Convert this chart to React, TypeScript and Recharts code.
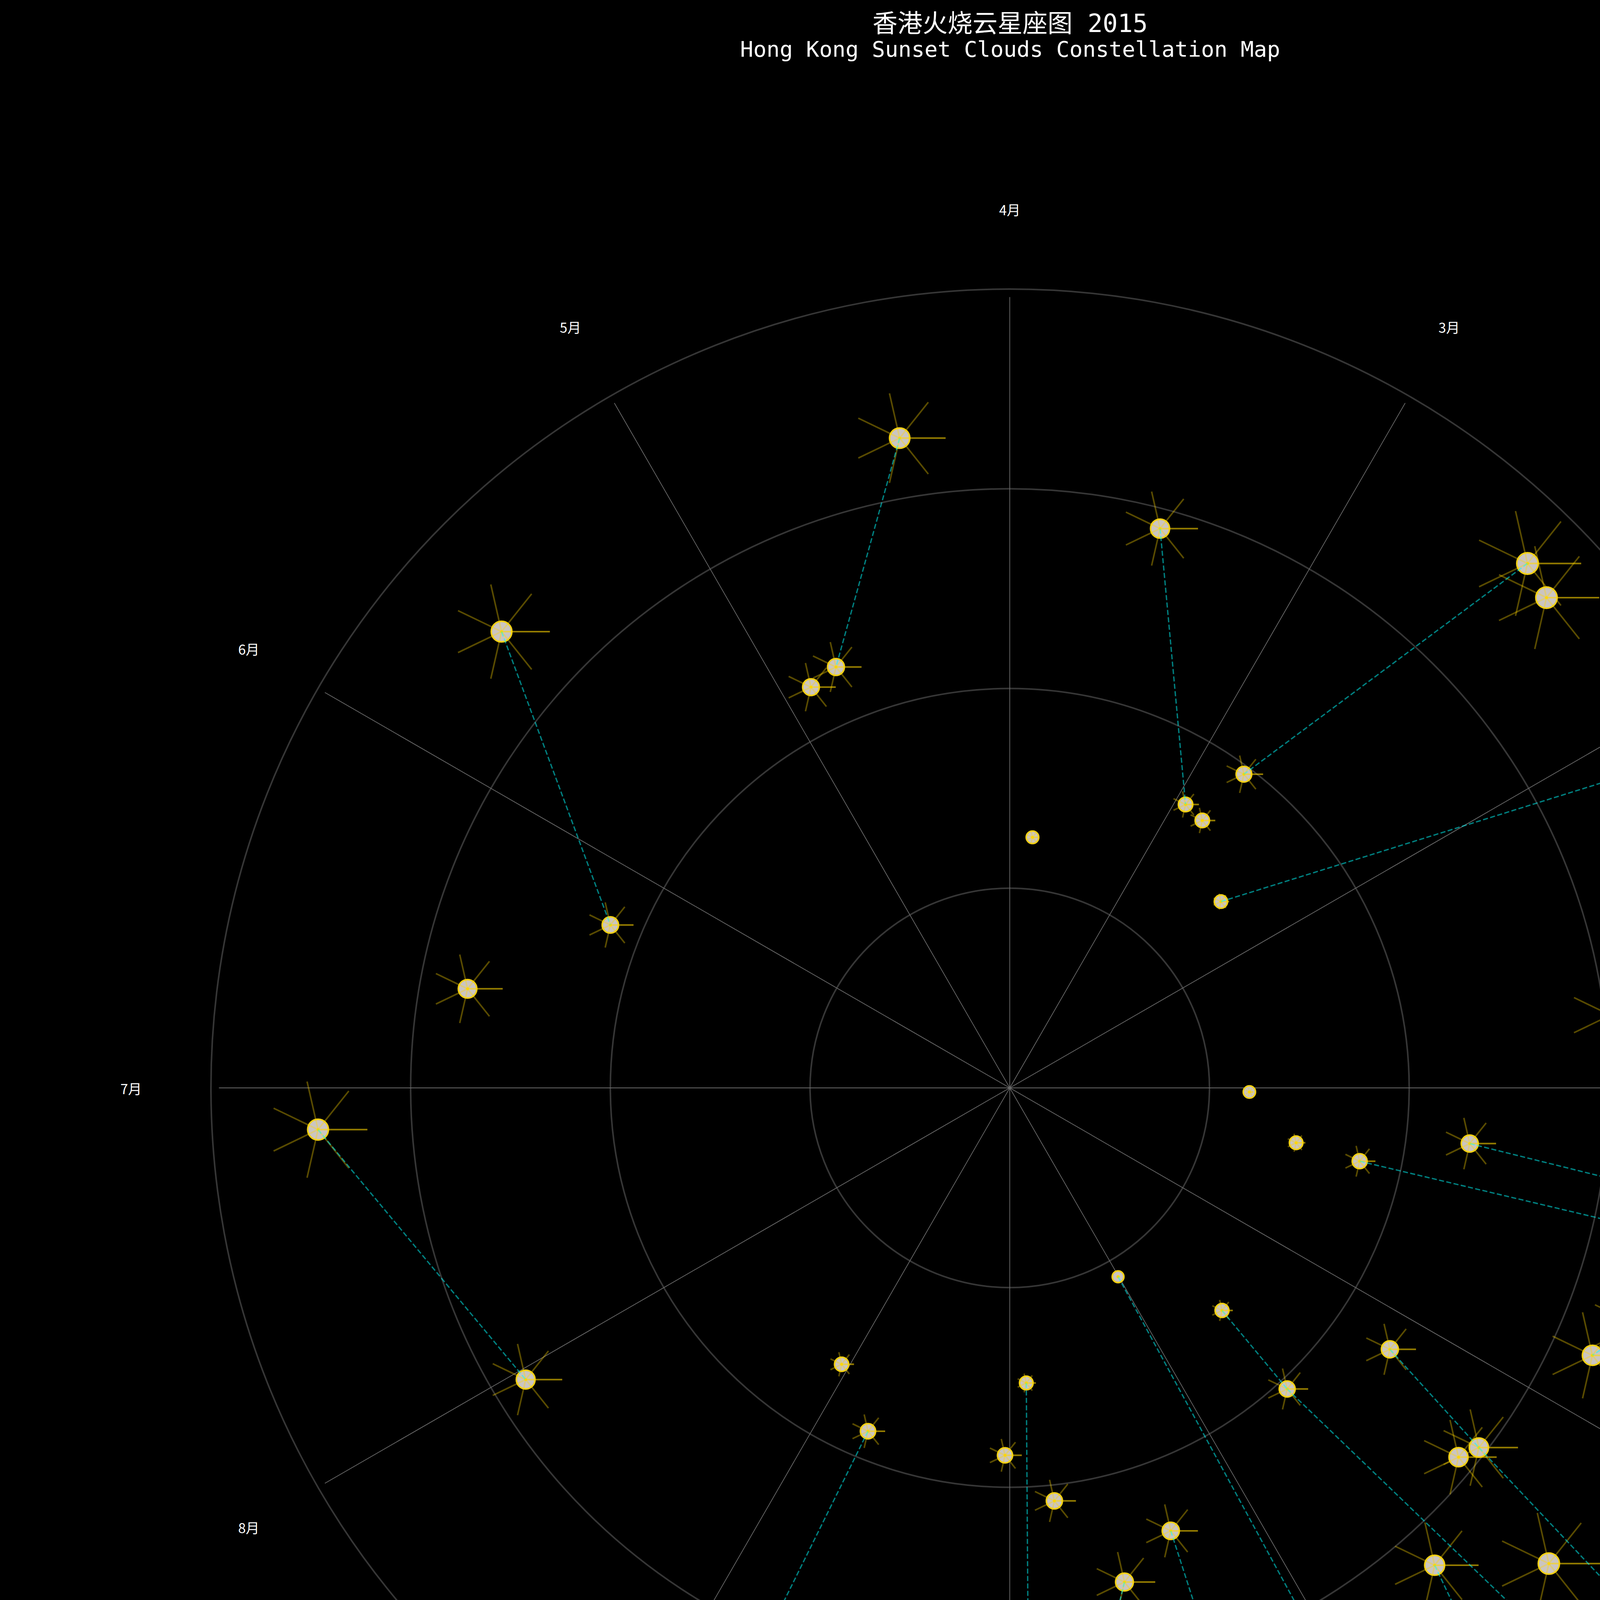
import React from 'react'
import { ScatterChart, Scatter, XAxis, YAxis } from 'recharts'

// canvas + polar frame (pixels)
const W = 5172
const H = 5372
const CX = 2585
const CY = 2785
const UNIT = 511.25 // px per radial unit

// sunset dates (2015) and cloud score (radial value)
const sunsetDates = [
  '04-12', '04-25', '04-29', '05-21', '06-10', '06-22', '03-28', '03-18', '03-01', '02-25',
  '02-24', '02-12', '02-16', '02-13', '01-26', '01-20', '01-14', '01-07', '01-08', '01-06',
  '01-02', '01-01', '12-30', '12-28', '12-31', '12-21', '12-20', '12-25', '12-27', '12-22',
  '12-17', '12-19', '12-11', '12-14', '12-07', '12-13', '12-16', '11-27', '11-15', '11-01',
  '11-14', '11-24', '11-22', '12-06', '11-13', '11-20', '11-21', '11-23', '11-16', '11-08',
  '10-31', '11-03', '10-29', '10-28', '10-24', '10-20', '10-19', '10-23', '10-17', '10-21',
  '10-18', '10-11', '10-15', '10-22', '10-08', '10-01', '10-05', '08-31', '09-09', '09-19',
  '09-07', '09-21', '09-25', '10-03', '08-03', '07-06',
]

const cloudScores = [
  3.30, 2.28, 2.24, 3.42, 2.16, 2.76, 1.26, 2.90, 1.67, 1.65,
  1.96, 1.41, 3.69, 3.64, 4.51, 4.06, 5.00, 4.98, 3.03, 3.85,
  3.93, 5.00, 4.69, 5.00, 1.20, 1.46, 1.79, 2.32, 3.40, 3.98,
  3.39, 4.95, 3.36, 3.99, 3.21, 4.32, 5.00, 2.31, 1.54, 1.09,
  2.05, 2.96, 2.91, 5.00, 3.20, 3.60, 4.35, 5.00, 4.86, 4.57,
  4.52, 3.84, 4.01, 3.34, 3.39, 3.35, 3.51, 4.03, 4.29, 4.49,
  2.98, 2.95, 2.54, 2.36, 2.08, 1.84, 1.48, 1.62, 1.86, 3.34,
  3.79, 4.05, 4.78, 5.00, 2.83, 3.47,
]

// constellation links between dates
const links: [string, string][] = [
  ['04-12', '04-25'], ['05-21', '06-10'], ['07-06', '08-03'], ['03-18', '03-01'],
  ['02-16', '02-24'], ['02-12', '01-26'], ['01-08', '01-14'], ['01-06', '01-02'],
  ['12-30', '12-28'], ['12-25', '12-22'], ['12-20', '12-19'], ['12-14', '12-16'],
  ['12-11', '12-07'], ['11-27', '11-24'], ['11-24', '11-21'], ['11-15', '11-14'],
  ['11-14', '11-16'], ['11-01', '10-31'], ['11-13', '11-08'], ['10-22', '10-21'],
  ['10-15', '10-11'], ['10-18', '10-19'], ['10-24', '10-28'], ['09-09', '09-07'],
  ['10-05', '10-03'], ['09-21', '09-25'],
]

const monthLabels = ['1月', '2月', '3月', '4月', '5月', '6月', '7月', '8月', '9月', '10月', '11月', '12月']
const gridRadii = [1, 2, 3, 4]
const SPOKE_LEN = 3.96
const LABEL_R = 4.4

const MONTH_START = [0, 31, 59, 90, 120, 151, 181, 212, 243, 273, 304, 334]

const dayIndex = (md: string) => {
  const [m, d] = md.split('-').map(Number)
  return MONTH_START[m - 1] + d - 1
}

const stars = sunsetDates.map((date, i) => {
  const t = (dayIndex(date) / 365) * Math.PI * 2
  const r = cloudScores[i]
  return { date, r, x: r * Math.cos(t), y: r * Math.sin(t) }
})
const byDate: Record<string, { x: number; y: number }> = {}
stars.forEach((s) => (byDate[s.date] = s))

const monthPoints = monthLabels.map((label, i) => {
  const t = (i * Math.PI) / 6
  return { label, x: LABEL_R * Math.cos(t), y: LABEL_R * Math.sin(t) }
})

const X_DOMAIN = [-CX / UNIT, (W - CX) / UNIT]
const Y_DOMAIN = [-(H - CY) / UNIT, CY / UNIT]

const PolarGrid = (props: any) => {
  const { cx, cy } = props
  return (
    <g>
      {gridRadii.map((k) => (
        <circle key={k} cx={cx} cy={cy} r={k * UNIT} fill="none" stroke="#363636" strokeWidth={4} />
      ))}
      {monthLabels.map((_, i) => {
        const t = (i * Math.PI) / 6
        return (
          <line
            key={i}
            x1={cx}
            y1={cy}
            x2={cx + SPOKE_LEN * UNIT * Math.cos(t)}
            y2={cy - SPOKE_LEN * UNIT * Math.sin(t)}
            stroke="#6a6a6a"
            strokeWidth={1.8}
          />
        )
      })}
    </g>
  )
}

const StarShape = (props: any) => {
  const { cx, cy, payload } = props
  const r = payload.r
  const size = Math.sqrt(47 + 222 * r)
  const spike = 0.1 * (r - 1) * UNIT
  const rays = [0, 1, 2, 3, 4, 5, 6, 7].map((k) => {
    const a = (k * 2 * Math.PI) / 7
    return (
      <line
        key={k}
        x1={cx}
        y1={cy}
        x2={cx + spike * Math.cos(a)}
        y2={cy - spike * Math.sin(a)}
        stroke="#ffd700"
        strokeOpacity={0.35}
        strokeWidth={4}
      />
    )
  })
  return (
    <g>
      <circle cx={cx} cy={cy} r={size - 2} fill="#cbc5c1" stroke="#f2d014" strokeWidth={4} />
      {rays}
      <circle cx={cx} cy={cy} r={3.5} fill="#ffd700" />
    </g>
  )
}

const MonthLabel = (props: any) => {
  const { cx, cy, payload } = props
  return (
    <text
      x={cx}
      y={cy}
      textAnchor="middle"
      dominantBaseline="central"
      fill="#ffffff"
      fontSize={35}
      fontFamily="'Noto Sans CJK SC', 'DejaVu Sans', sans-serif"
    >
      {payload.label}
    </text>
  )
}

const Nothing = () => <g />

const App: React.FC = () => {
  return (
    <div style={{ position: 'absolute', left: 0, top: 0, width: W, height: H, background: '#000' }}>
      <ScatterChart width={W} height={H} margin={{ top: 0, right: 0, bottom: 0, left: 0 }}>
        <XAxis type="number" dataKey="x" domain={X_DOMAIN} hide allowDataOverflow />
        <YAxis type="number" dataKey="y" domain={Y_DOMAIN} hide allowDataOverflow />
        <Scatter data={[{ x: 0, y: 0 }]} shape={PolarGrid} isAnimationActive={false} />
        <Scatter data={stars} shape={StarShape} isAnimationActive={false} />
        {links.map(([a, b]) => (
          <Scatter
            key={a + b}
            data={[byDate[a], byDate[b]]}
            shape={Nothing}
            line={{ stroke: '#00ffff', strokeOpacity: 0.5, strokeWidth: 3.4, strokeDasharray: '13 6' }}
            isAnimationActive={false}
          />
        ))}
        <Scatter data={monthPoints} shape={MonthLabel} isAnimationActive={false} />
      </ScatterChart>
      <svg width={W} height={200} style={{ position: 'absolute', left: 0, top: 0, pointerEvents: 'none' }}>
        <text
          x={2586}
          y={82}
          textAnchor="middle"
          fill="#ffffff"
          fontSize={64}
          fontFamily="'DejaVu Sans Mono', 'Noto Sans CJK SC', monospace"
        >
          香港火烧云星座图 2015
        </text>
        <text
          x={2586}
          y={145}
          textAnchor="middle"
          fill="#ffffff"
          fontSize={56}
          fontFamily="'DejaVu Sans Mono', 'Noto Sans CJK SC', monospace"
        >
          Hong Kong Sunset Clouds Constellation Map
        </text>
      </svg>
    </div>
  )
}

export default App
